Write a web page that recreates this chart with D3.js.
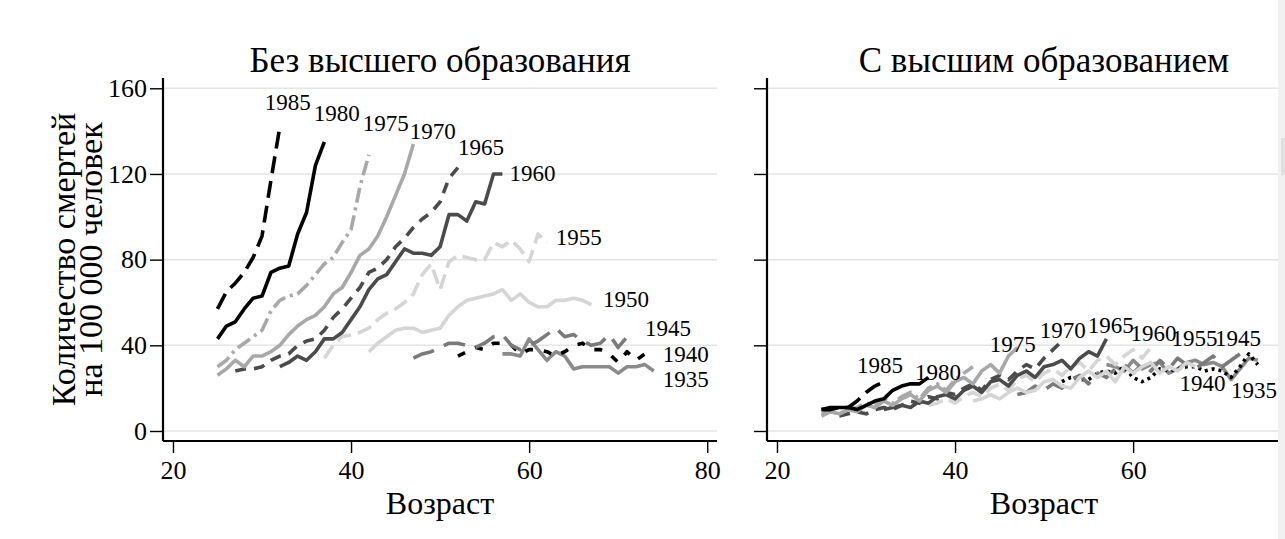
<!DOCTYPE html>
<html>
<head>
<meta charset="utf-8">
<script src="https://cdn.jsdelivr.net/npm/d3@7"></script>
<style>
  html, body { margin: 0; padding: 0; background: #fff; overflow: hidden; }
  svg { display: block; font-family: 'Liberation Serif', 'DejaVu Serif', serif; }
</style>
</head>
<body>
<svg width="1285" height="539"></svg>
<script>
// birth cohorts and the age at which each series starts
const cohorts = ['1985', '1980', '1975', '1970', '1965', '1960', '1955', '1950', '1945', '1940', '1935'];
const startAge = [25, 25, 25, 25, 27, 32, 37, 42, 47, 52, 57];

// deaths per 100 000, one value per year of age (no college degree)
const noDegree = [
  [57, 65, 69, 74, 81, 91, 117, 142],
  [43, 49, 51, 57, 62, 63, 74, 76, 77, 92, 102, 124, 135],
  [30, 33, 38, 41, 44, 47, 56, 61, 63, 64, 68, 73, 78, 81, 88, 94, 114, 129],
  [26, 29, 33, 30, 35, 35, 37, 40, 45, 49, 52, 54, 58, 64, 67, 74, 82, 85, 91, 100, 110, 120, 134],
  [28, 29, 29, 30, 33, 35, 36, 40, 42, 43, 47, 53, 57, 62, 67, 74, 76, 80, 86, 90, 95, 99, 102, 107, 118, 123],
  [30, 32, 35, 33, 37, 43, 43, 46, 52, 58, 66, 71, 73, 79, 85, 83, 83, 82, 86, 101, 101, 98, 107, 106, 120, 120],
  [34, 40, 44, 45, 46, 48, 52, 55, 57, 60, 64, 73, 78, 66, 79, 82, 81, 80, 80, 88, 86, 89, 85, 79, 92, 88],
  [37, 41, 44, 47, 48, 48, 46, 47, 48, 54, 58, 61, 62, 63, 64, 66, 61, 64, 60, 58, 58, 61, 61, 62, 61, 59],
  [34, 36, 37, 39, 41, 41, 40, 39, 41, 44, 45, 40, 38, 40, 42, 45, 48, 44, 45, 42, 40, 41, 45, 39, 44, 44],
  [35, 37, 39, 38, 41, 41, 40, 36, 38, 38, 37, 35, 37, 40, 41, 38, 38, 36, 32, 37, 33, 36, 36],
  [36, 36, 35, 43, 38, 33, 37, 35, 29, 30, 30, 30, 30, 27, 30, 30, 31, 28]
];

// deaths per 100 000 (with college degree)
const withDegree = [
  [10, 10, 11, 11, 14, 18, 21, 23],
  [10, 11, 11, 11, 10, 12, 14, 15, 19, 21, 22, 22, 25],
  [8, 9, 8, 10, 11, 13, 12, 15, 13, 16, 18, 15, 20, 22, 19, 24, 27, 30],
  [7, 9, 8, 10, 9, 12, 11, 14, 12, 15, 17, 14, 19, 21, 18, 23, 25, 22, 28, 31, 27, 35, 39],
  [7, 8, 9, 8, 10, 11, 10, 12, 14, 13, 16, 15, 18, 17, 20, 22, 19, 24, 26, 24, 28, 31, 29, 34, 38, 42],
  [10, 11, 12, 11, 14, 13, 16, 17, 15, 19, 21, 18, 23, 24, 21, 26, 28, 25, 30, 31, 33, 29, 34, 37, 35, 43],
  [12, 13, 15, 13, 16, 18, 16, 20, 22, 19, 24, 26, 23, 27, 29, 26, 30, 32, 28, 33, 35, 31, 35, 38, 34, 39],
  [14, 15, 17, 15, 18, 20, 18, 19, 23, 24, 21, 20, 25, 28, 25, 28, 23, 30, 27, 30, 32, 27, 30, 28, 32, 30],
  [17, 18, 21, 19, 22, 20, 24, 26, 22, 27, 25, 29, 31, 27, 31, 28, 33, 29, 34, 31, 29, 32, 35, 30, 33, 36],
  [23, 25, 24, 24, 27, 28, 27, 30, 25, 23, 25, 29, 28, 29, 30, 30, 28, 29, 28, 25, 30, 36, 31],
  [31, 30, 28, 33, 29, 31, 32, 27, 29, 32, 33, 31, 32, 30, 24, 29, 34, 33]
];

// where the cohort labels sit, as [age, deaths]
const labelsNoDegree = [
  [30.3, 153.5], [35.8, 148.4], [41.3, 144], [46.6, 140], [52, 132.5], [57.8, 120.4],
  [63, 90.5], [68.3, 61.6], [73, 48], [75, 36], [75, 24.3]
];
const labelsDegree = [
  [29, 30.8], [35.5, 27.5], [43.9, 40.6], [49.5, 47], [54.9, 49.5], [59.7, 46],
  [64.3, 43.4], [null, null], [69.2, 43.4], [65.2, 22.4], [71, 19]
];

const xTicks = [[20, 40, 60, 80], [20, 40, 60]];
const yTicks = [0, 40, 80, 120, 160];
const titles = ['Без высшего образования', 'С высшим образованием'];

// line styles per cohort
const COLORS = ['#000', '#000', '#a8a8a8', '#a8a8a8', '#4b4b4b', '#4b4b4b', '#d5d5d5', '#d5d5d5', '#7a7a7a', '#000', '#8a8a8a'];
const DASHES = [
  ['17,8', '17,8'], [null, null], ['15,5,3,5', '15,5,3,5'], [null, null], ['11,8', '11,8'], [null, null],
  ['15,7', '15,7'], [null, null], ['22,11', '22,11'], ['8,11', '3,4'], [null, null]
];

const svg = d3.select('svg');
const PLOT = { LEFT: 163, WIDTH: 554, TOP: 78, BOTTOM: 441, SHIFT: 604 };

const x = d3.scaleLinear().domain([18.88, 81.1]).range([0, PLOT.WIDTH]);
const y = d3.scaleLinear().domain([-4.67, 164.8]).range([PLOT.BOTTOM, PLOT.TOP]);

function drawPanel(p, series, labels) {
  const g = svg.append('g').attr('transform', `translate(${PLOT.LEFT + p * PLOT.SHIFT},0)`);

  // gridlines
  g.append('g')
    .selectAll('line')
    .data(yTicks)
    .join('line')
    .attr('x1', 0)
    .attr('x2', PLOT.WIDTH)
    .attr('y1', d => y(d))
    .attr('y2', d => y(d))
    .attr('stroke', '#e4e4e4')
    .attr('stroke-width', 1.5);

  // cohort lines, oldest drawn first
  const line = d3.line().x(d => x(d.age)).y(d => y(d.v));
  for (let i = cohorts.length - 1; i >= 0; i--) {
    const pts = series[i].map((v, k) => ({ age: startAge[i] + k, v: v }));
    g.append('path')
      .attr('d', line(pts))
      .attr('fill', 'none')
      .attr('stroke', COLORS[i])
      .attr('stroke-width', 3.6)
      .attr('stroke-linejoin', 'round')
      .attr('stroke-dasharray', DASHES[i][p]);
  }

  // cohort labels
  cohorts.forEach((c, i) => {
    if (labels[i][0] === null) return;
    g.append('text')
      .attr('x', x(labels[i][0]))
      .attr('y', y(labels[i][1]))
      .attr('dy', '0.35em')
      .attr('font-size', 23)
      .text(c);
  });

  // axes
  const yAxis = g.append('g')
    .call(d3.axisLeft(y).tickValues(yTicks).tickSize(13).tickPadding(3).tickFormat(p === 0 ? d3.format('d') : ''));
  const xAxis = g.append('g')
    .attr('transform', `translate(0,${PLOT.BOTTOM})`)
    .call(d3.axisBottom(x).tickValues(xTicks[p]).tickSize(12).tickPadding(8).tickFormat(d3.format('d')));
  [yAxis, xAxis].forEach(a => {
    a.attr('font-family', null).attr('font-size', 26);
    a.select('.domain').attr('stroke-width', 2.2);
    a.selectAll('.tick line').attr('stroke-width', 1.4);
    a.selectAll('.tick text').attr('fill', '#000');
  });
  yAxis.select('.domain').attr('d', `M0,${PLOT.TOP}V${PLOT.BOTTOM}`);
  xAxis.select('.domain').attr('d', `M0,0H${PLOT.WIDTH}`);

  // panel title
  g.append('text')
    .attr('x', PLOT.WIDTH / 2)
    .attr('y', 72)
    .attr('text-anchor', 'middle')
    .attr('font-size', 35)
    .text(titles[p]);

  // x title
  g.append('text')
    .attr('x', PLOT.WIDTH / 2)
    .attr('y', 514)
    .attr('text-anchor', 'middle')
    .attr('font-size', 32)
    .text('Возраст');
}

drawPanel(0, noDegree, labelsNoDegree);
drawPanel(1, withDegree, labelsDegree);

// y title, two lines
const yTitle = svg.append('text')
  .attr('transform', `translate(75,${(PLOT.TOP + PLOT.BOTTOM) / 2}) rotate(-90)`)
  .attr('text-anchor', 'middle')
  .attr('font-size', 34);
yTitle.append('tspan').attr('x', 0).attr('y', 0).text('Количество смертей');
yTitle.append('tspan').attr('x', 0).attr('y', 27).text('на 100 000 человек');

// browser scrollbar strip at the right edge
svg.append('rect').attr('x', 1278).attr('y', 0).attr('width', 7).attr('height', 539).attr('fill', '#f1f1f1');
svg.append('rect').attr('x', 1281).attr('y', 138).attr('width', 4).attr('height', 37).attr('fill', '#e0e0e0');
</script>
</body>
</html>
